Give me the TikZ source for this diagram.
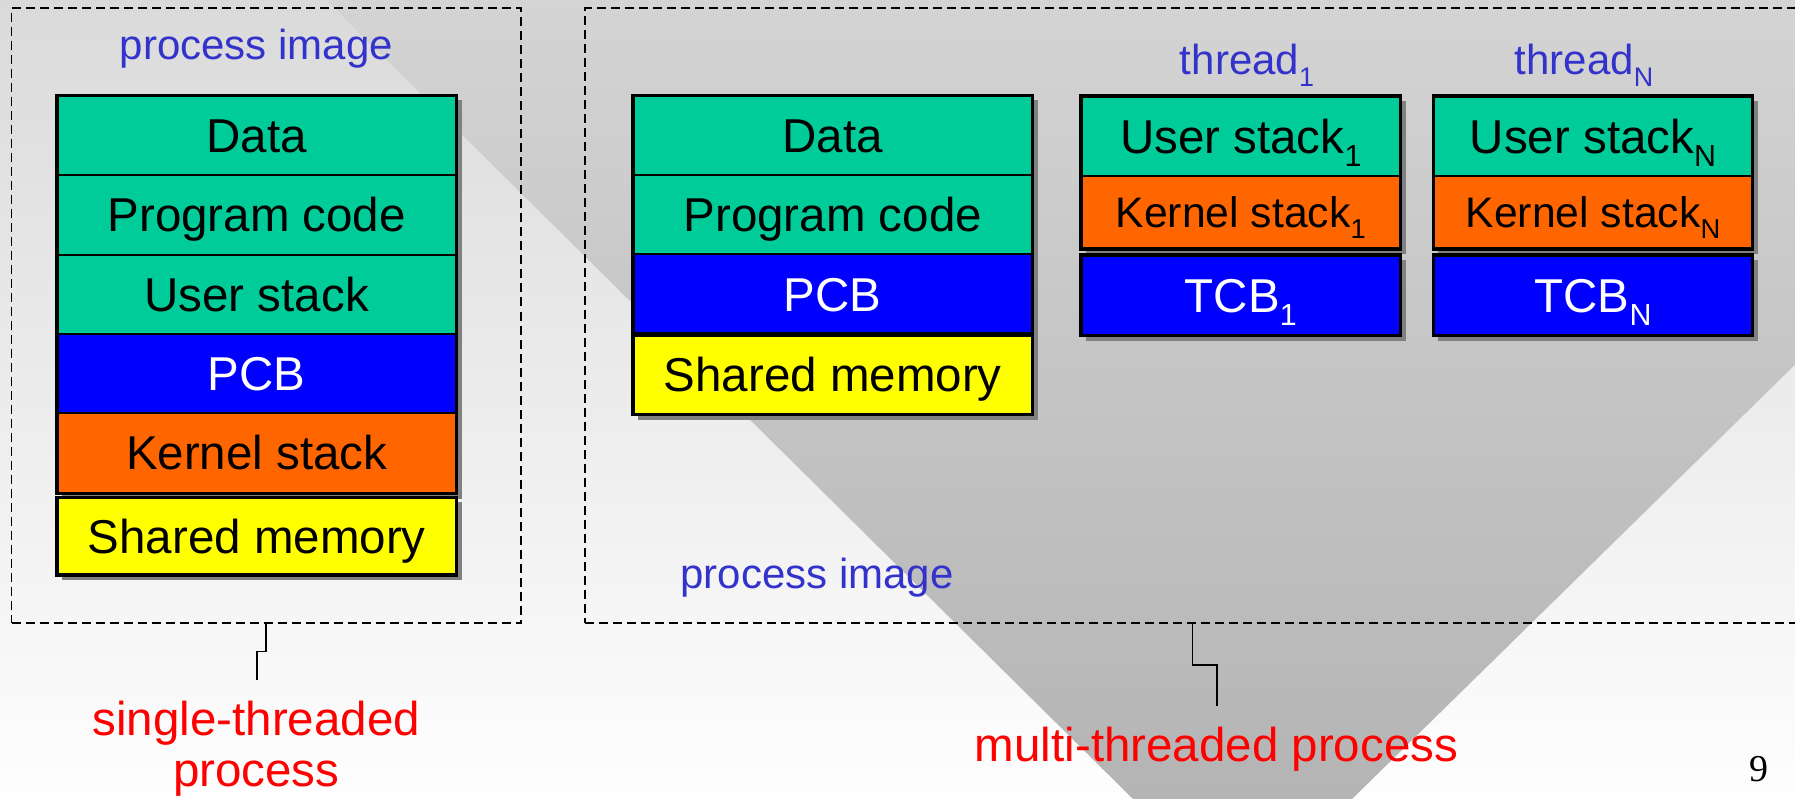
\documentclass[tikz,border=0pt]{standalone}
\usepackage{fontspec}
\setmainfont{Liberation Sans}
\newfontfamily\pagefont{Liberation Serif}
\usepackage{graphicx}
\definecolor{cteal}{HTML}{00CC99}
\definecolor{corange}{HTML}{FF6600}
\definecolor{cblue}{HTML}{0000FF}
\definecolor{cyellow}{HTML}{FFFF00}
\definecolor{clabel}{HTML}{3333CC}
\definecolor{cred}{HTML}{FF0000}
\definecolor{cshadow}{HTML}{808080}
\definecolor{bgtop}{HTML}{DADADA}
\definecolor{bgbot}{HTML}{FEFEFE}
\definecolor{funtop}{HTML}{D4D4D4}
\definecolor{funbot}{HTML}{B4B4B4}
\pgfdeclarelayer{bglayer}
\pgfdeclarelayer{shlayer}
\pgfsetlayers{bglayer,shlayer,main}
\newcommand\sbs[1]{\raisebox{-0.27em}{\scalebox{0.64}{#1}}}
\newcommand\boxfont{\fontsize{47.5}{57}\selectfont}
\newcommand\smallboxfont{\fontsize{42.7}{51}\selectfont}
\newcommand\labfont{\fontsize{42}{50}\selectfont}
\newcommand\redfont{\fontsize{47.5}{57}\selectfont}
\tikzset{
  cellbox/.style={draw=black, line width=2pt, inner sep=0pt, text height=34pt, text depth=0pt, font=\boxfont},
  smallcell/.style={cellbox, text height=30.6pt, font=\smallboxfont},
  outerline/.style={draw=black, line width=2.8pt},
  shadowfill/.style={fill=cshadow},
  dashbox/.style={draw=black, line width=1.6pt, dash pattern=on 9pt off 5pt, inner sep=0pt},
  conn/.style={draw=black, line width=1.6pt},
  bluelabel/.style={text=clabel, font=\labfont, anchor=base, inner sep=0pt},
  redlabel/.style={text=cred, font=\redfont, anchor=base, inner sep=0pt}
}
\begin{document}
\begin{tikzpicture}[x=1pt,y=-1pt]
\useasboundingbox (0,0) rectangle (1795,799);
\clip (0,0) rectangle (1795,799);
\begin{pgfonlayer}{bglayer}
  \shade[top color=bgtop, bottom color=bgbot] (0,0) rectangle (1795,799);
  \shade[top color=funtop, bottom color=funbot] (326,0) -- (1133,799) -- (1352,799) -- (2167,0) -- cycle;
\end{pgfonlayer}

% dashed frames
\node[dashbox, minimum width=509.5pt, minimum height=614.7pt] (sdash) at (266.25,315.65) {};
\node[dashbox, minimum width=1215pt, minimum height=614.7pt] (mdash) at (1192.5,315.65) {};

% single-threaded stack
\node[cellbox, fill=cteal, minimum width=398pt, minimum height=79.3pt] (sdata) at (256.7,135.6) {Data};
\node[cellbox, fill=cteal, minimum width=398pt, minimum height=79.3pt] (sprog) at (256.7,215) {Program code};
\node[cellbox, fill=cteal, minimum width=398pt, minimum height=79.3pt] (suser) at (256.7,294.3) {User stack};
\node[cellbox, fill=cblue, text=white, minimum width=398pt, minimum height=79.3pt] (spcb) at (256.7,373.6) {PCB};
\node[cellbox, fill=corange, minimum width=398pt, minimum height=79.3pt] (skern) at (256.7,452.9) {Kernel stack};
\node[cellbox, fill=cyellow, minimum width=398pt, minimum height=76pt] (sshm) at (256.7,536.2) {Shared memory};
\draw[outerline] (sdata.north west) rectangle (skern.south east);
\draw[outerline] (sshm.north west) rectangle (sshm.south east);

% multi-threaded: shared part
\node[cellbox, fill=cteal, minimum width=398pt, minimum height=78.7pt] (mdata) at (832.8,135.4) {Data};
\node[cellbox, fill=cteal, minimum width=398pt, minimum height=79.3pt] (mprog) at (832.8,214.4) {Program code};
\node[cellbox, fill=cblue, text=white, minimum width=398pt, minimum height=80.3pt] (mpcb) at (832.8,294.2) {PCB};
\node[cellbox, fill=cyellow, minimum width=398pt, minimum height=79pt] (mshm) at (832.8,374.2) {Shared memory};
\draw[outerline] (mdata.north west) rectangle (mpcb.south east);
\draw[outerline] (mshm.north west) rectangle (mshm.south east);

% thread 1
\node[cellbox, fill=cteal, minimum width=318pt, minimum height=79pt] (t1user) at (1240.8,136.2) {User stack\sbs{1}};
\node[smallcell, fill=corange, minimum width=318pt, minimum height=72.6pt] (t1kern) at (1240.8,212) {Kernel stack\sbs{1}};
\node[cellbox, fill=cblue, text=white, minimum width=318pt, minimum height=79.3pt] (t1tcb) at (1240.8,295.2) {TCB\sbs{1}};
\draw[outerline] (t1user.north west) rectangle (t1kern.south east);
\draw[outerline] (t1tcb.north west) rectangle (t1tcb.south east);

% thread N
\node[cellbox, fill=cteal, minimum width=318pt, minimum height=79pt] (tnuser) at (1593,136.2) {User stack\sbs{N}};
\node[smallcell, fill=corange, minimum width=318pt, minimum height=72.6pt] (tnkern) at (1593,212) {Kernel stack\sbs{N}};
\node[cellbox, fill=cblue, text=white, minimum width=318pt, minimum height=79.3pt] (tntcb) at (1593,295.2) {TCB\sbs{N}};
\draw[outerline] (tnuser.north west) rectangle (tnkern.south east);
\draw[outerline] (tntcb.north west) rectangle (tntcb.south east);

% shadows
\begin{pgfonlayer}{shlayer}
  \fill[shadowfill] ([shift={(5,5)}]sdata.north west) rectangle ([shift={(5,5)}]skern.south east);
  \fill[shadowfill] ([shift={(5,5)}]sshm.north west) rectangle ([shift={(5,5)}]sshm.south east);
  \fill[shadowfill] ([shift={(5,5)}]mdata.north west) rectangle ([shift={(5,5)}]mpcb.south east);
  \fill[shadowfill] ([shift={(5,5)}]mshm.north west) rectangle ([shift={(5,5)}]mshm.south east);
  \fill[shadowfill] ([shift={(5,5)}]t1user.north west) rectangle ([shift={(5,5)}]t1kern.south east);
  \fill[shadowfill] ([shift={(5,5)}]t1tcb.north west) rectangle ([shift={(5,5)}]t1tcb.south east);
  \fill[shadowfill] ([shift={(5,5)}]tnuser.north west) rectangle ([shift={(5,5)}]tnkern.south east);
  \fill[shadowfill] ([shift={(5,5)}]tntcb.north west) rectangle ([shift={(5,5)}]tntcb.south east);
\end{pgfonlayer}

% labels
\node[bluelabel] (simg) at (256.5,60) {process image};
\node[bluelabel] (mimg) at (817,588) {process image};
\node[bluelabel] (t1lab) at (1247,75) {thread\sbs{1}};
\node[bluelabel] (tnlab) at (1584,75) {thread\sbs{N}};
\node[redlabel] (stl1) at (256.3,735) {single-threaded};
\node[redlabel] (stl2) at (256.3,786.7) {process};
\node[redlabel] (mtl) at (1216.5,761.7) {multi-threaded process};
\node[anchor=base, inner sep=0pt, font=\pagefont\fontsize{38}{44}\selectfont] (pnum) at (1759,781.5) {9};

% connectors
\coordinate (c1end) at (256.8,680);
\coordinate (c2end) at (1216.7,705.7);
\draw[conn] (sdash.south) -- ++(0,27.7) -| (c1end);
\draw[conn] (mdash.south) -- ++(0,41) -| (c2end);
\end{tikzpicture}
\end{document}
